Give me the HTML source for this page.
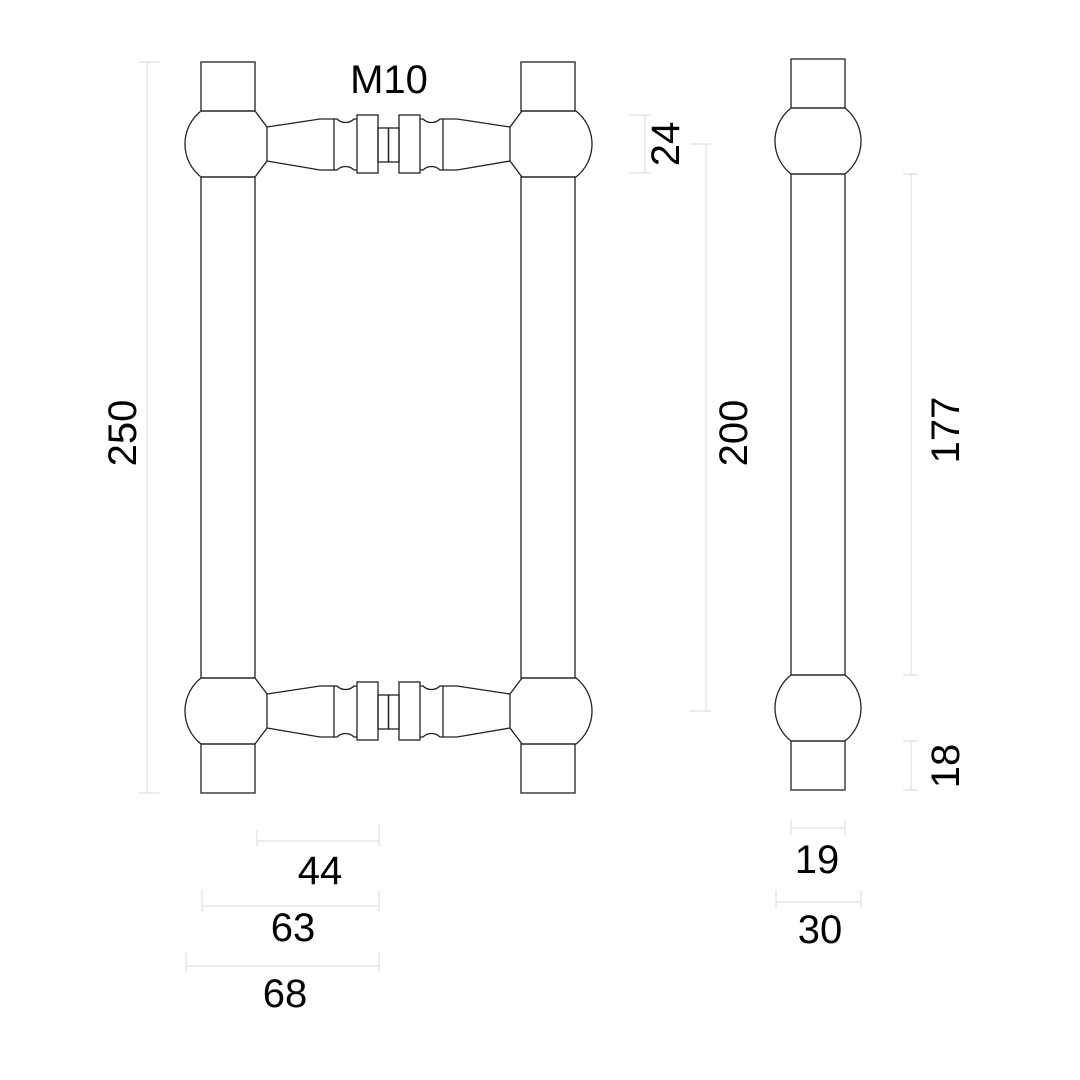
<!DOCTYPE html>
<html><head><meta charset="utf-8"><style>
html,body{margin:0;padding:0;background:#fff;}
svg{display:block;}
text{font-family:"Liberation Sans",sans-serif;font-size:40px;fill:#000;}
</style></head><body>
<svg width="1080" height="1080" viewBox="0 0 1080 1080" xmlns="http://www.w3.org/2000/svg">
<defs>
<g id="half" fill="none" stroke="#222" stroke-width="1.3">
  <path d="M201,111 H255 L267,127 V161 L255,177 H201 A42,42 0 0 1 201,111 Z"/>
  <path d="M267,127 L320,119 H334 V170 H320 L267,161"/>
  <path d="M334,119 H337 A12,12 0 0 0 354,119 H357"/>
  <path d="M334,170 H337 A12,12 0 0 1 354,170 H357"/>
  <rect x="357" y="115" width="21" height="58"/>
  <rect x="378" y="128" width="10.5" height="34"/>
</g>
<g id="hnd">
  <use href="#half"/>
  <use href="#half" transform="translate(777,0) scale(-1,1)"/>
</g>
</defs>
<g fill="none" stroke="#222" stroke-width="1.3">
  <rect x="201" y="62" width="54" height="49"/>
  <rect x="201" y="177" width="54" height="501"/>
  <rect x="201" y="744" width="54" height="49"/>
  <rect x="521" y="62" width="54" height="49"/>
  <rect x="521" y="177" width="54" height="501"/>
  <rect x="521" y="744" width="54" height="49"/>
  <!-- side -->
  <rect x="791" y="59" width="54" height="49"/>
  <path d="M791,108 H845 A42,42 0 0 1 845,174 H791 A42,42 0 0 1 791,108 Z"/>
  <rect x="791" y="174" width="54" height="501"/>
  <path d="M791,675 H845 A42,42 0 0 1 845,741 H791 A42,42 0 0 1 791,675 Z"/>
  <rect x="791" y="741" width="54" height="49"/>
</g>
<use href="#hnd"/>
<use href="#hnd" transform="translate(0,567)"/>
<g stroke="#d8d8d8" stroke-width="1" fill="none">
  <path d="M147,62 V793 M139,62 H160 M139,793 H160"/>
  <path d="M645,115 V173 M629,115 H650 M629,173 H650"/>
  <path d="M706,144 V711 M690,144 H711 M690,711 H711"/>
  <path d="M911,174 V675 M903,174 H918 M903,675 H918"/>
  <path d="M911,741 V790 M903,741 H918 M903,790 H918"/>
  <path d="M257,841 H379 M257,830 V846 M379,824 V846"/>
  <path d="M202,906 H379 M202,890 V911 M379,890 V911"/>
  <path d="M186,966 H379 M186,952 V972 M379,952 V972"/>
  <path d="M791,828 H845 M791,820 V835 M845,820 V835"/>
  <path d="M776,902 H861 M776,890 V908 M861,890 V908"/>
</g>
<text x="389" y="93" text-anchor="middle">M10</text>
<text x="320" y="884" text-anchor="middle">44</text>
<text x="293" y="941" text-anchor="middle">63</text>
<text x="285" y="1007" text-anchor="middle">68</text>
<text x="817" y="873" text-anchor="middle">19</text>
<text x="820" y="943" text-anchor="middle">30</text>
<text transform="translate(136,433) rotate(-90)" text-anchor="middle">250</text>
<text transform="translate(747,433) rotate(-90)" text-anchor="middle">200</text>
<text transform="translate(959,430) rotate(-90)" text-anchor="middle">177</text>
<text transform="translate(679,144) rotate(-90)" text-anchor="middle">24</text>
<text transform="translate(959,766) rotate(-90)" text-anchor="middle">18</text>
</svg>
</body></html>
